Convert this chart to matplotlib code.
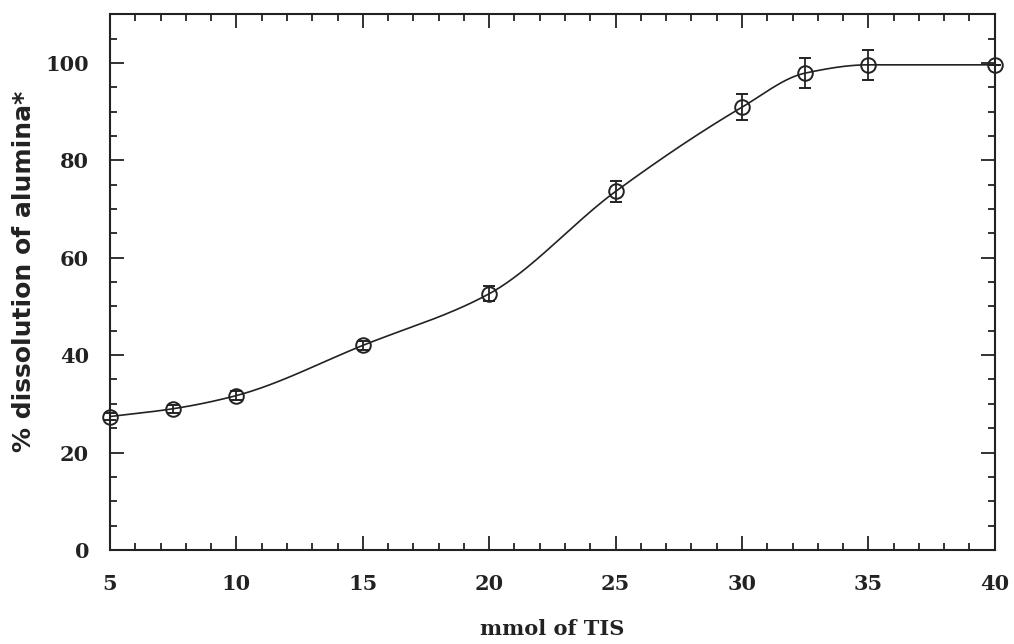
"""Dissolution of alumina versus amount of TIS."""
import numpy as np
from matplotlib import pyplot as plt
from matplotlib.ticker import MultipleLocator

mmol_tis = [5, 7.5, 10, 15, 20, 25, 30, 32.5, 35, 40]
dissolution = [27.4, 29.0, 31.7, 42.0, 52.6, 73.6, 90.9, 97.9, 99.6, 99.6]
error = [0.8, 0.8, 0.9, 1.0, 1.5, 2.2, 2.7, 3.0, 3.1, 0.0]


def pchip(x, y, xs):
    """Monotone cubic curve through the points (for the drawn fit line)."""
    x = np.asarray(x, float)
    y = np.asarray(y, float)
    h = np.diff(x)
    d = np.diff(y) / h
    m = np.zeros_like(y)
    for k in range(1, len(x) - 1):
        if d[k - 1] * d[k] > 0:
            w1 = 2 * h[k] + h[k - 1]
            w2 = h[k] + 2 * h[k - 1]
            m[k] = (w1 + w2) / (w1 / d[k - 1] + w2 / d[k])
    m[0] = d[0]
    m[-1] = d[-1]
    idx = np.clip(np.searchsorted(x, xs) - 1, 0, len(x) - 2)
    t = (xs - x[idx]) / h[idx]
    h00 = 2 * t**3 - 3 * t**2 + 1
    h10 = t**3 - 2 * t**2 + t
    h01 = -2 * t**3 + 3 * t**2
    h11 = t**3 - t**2
    return (h00 * y[idx] + h10 * h[idx] * m[idx] + h01 * y[idx + 1]
            + h11 * h[idx] * m[idx + 1])


plt.rcParams['font.family'] = 'DejaVu Serif'
plt.rcParams['font.weight'] = 'bold'

ink = '#222222'
fig = plt.figure(figsize=(10.14, 6.44), dpi=100)
ax = fig.add_axes([0.1085, 0.146, 0.8725, 0.832])

xs = np.linspace(mmol_tis[0], mmol_tis[-1], 400)
ax.plot(xs, pchip(mmol_tis, dissolution, xs), color=ink, lw=1.2)
ax.errorbar(mmol_tis, dissolution, yerr=error, fmt='o', mfc='none',
            mec=ink, ecolor=ink, ms=10.5, mew=1.4,
            elinewidth=1.3, capsize=4.5, capthick=1.3, clip_on=False)

ax.set_xlim(5, 40)
ax.set_ylim(0, 110)
ax.xaxis.set_major_locator(MultipleLocator(5))
ax.xaxis.set_minor_locator(MultipleLocator(1))
ax.yaxis.set_major_locator(MultipleLocator(20))
ax.yaxis.set_minor_locator(MultipleLocator(5))
ax.tick_params(which='both', direction='in', top=True, right=True,
               width=1.3, colors=ink, labelsize=15)
ax.tick_params(which='major', length=10)
ax.tick_params(which='minor', length=5)
ax.tick_params(axis='x', pad=17)
ax.tick_params(axis='y', pad=15)
for spine in ax.spines.values():
    spine.set_linewidth(1.5)
    spine.set_color(ink)

ax.set_xlabel('mmol of TIS', fontsize=15, fontweight='bold', labelpad=18,
              color=ink)
ax.set_ylabel('% dissolution of alumina*', fontsize=18, fontweight='bold',
              family='DejaVu Sans', labelpad=7, color=ink)
ax.yaxis.label.set_y(0.52)

fig.savefig('out.png', dpi=100)
